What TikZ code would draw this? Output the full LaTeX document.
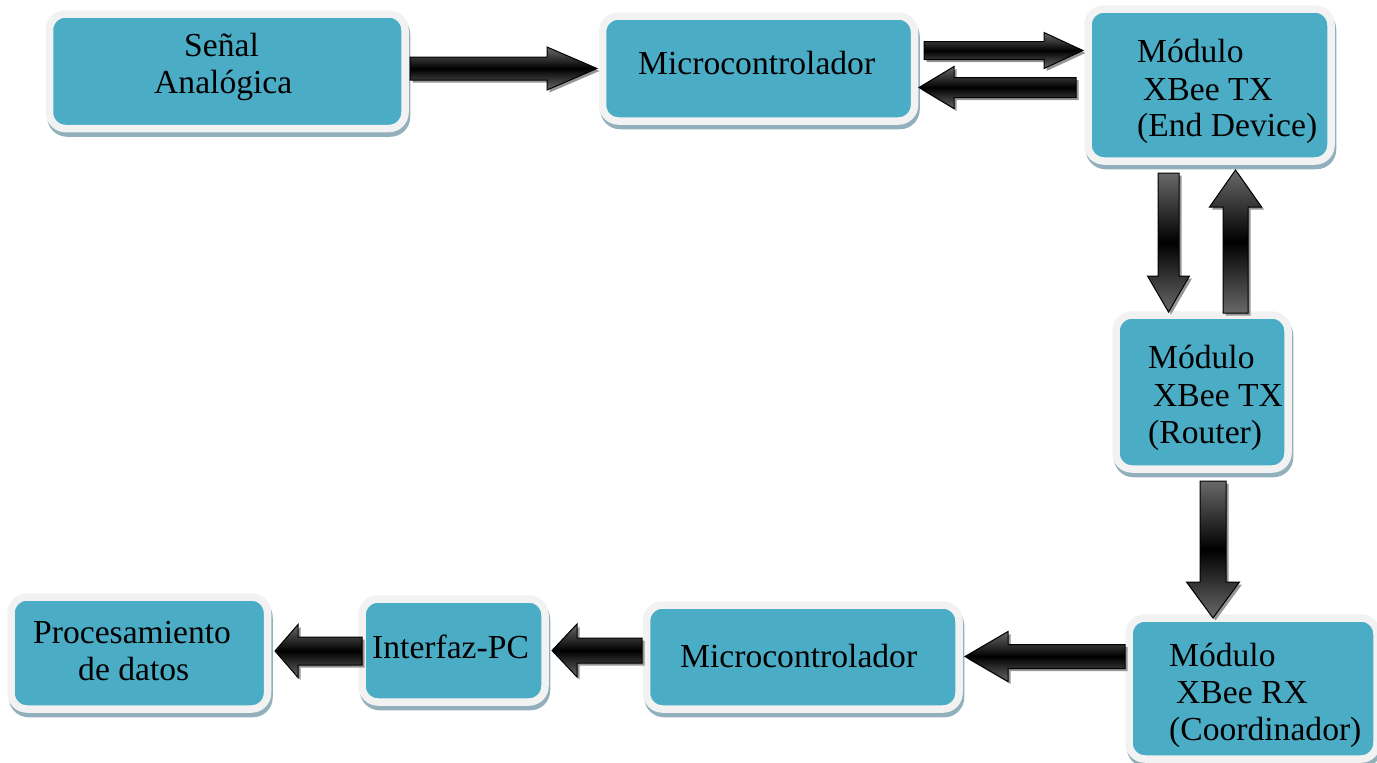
\documentclass[tikz,border=0pt]{standalone}
\usepackage{fontspec}
\setmainfont{Liberation Serif}
\usetikzlibrary{calc,shadows}
\definecolor{boxteal}{RGB}{75,172,198}
\definecolor{boxrim}{RGB}{242,242,242}
\definecolor{boxshade}{RGB}{146,176,188}
\definecolor{arrowgray}{RGB}{105,105,105}
\definecolor{arrowshade}{RGB}{150,150,150}
\tikzset{
  box/.style={rectangle, rounded corners=16pt, fill=boxteal, draw=boxrim, line width=7.5pt, inner sep=0pt,
    drop shadow={shadow xshift=1.5pt, shadow yshift=-4.5pt, fill=boxshade, draw=boxshade, line width=7.5pt, opacity=1}},
  lbl/.style={anchor=base west, inner sep=0pt, font=\fontsize{33.6}{38}\selectfont, text=black},
  blockarrow/.style={draw=black, line width=1pt, top color=arrowgray, bottom color=arrowgray, middle color=black,
    drop shadow={shadow xshift=2.5pt, shadow yshift=-2.5pt, fill=arrowshade, opacity=1}},
}
% #1 tail, #2 tip, #3 shaft half width, #4 head half width, #5 head length
\newcommand\blockarrow[5]{%
  \coordinate (ba-h) at ($(#2)!#5!(#1)$);
  \path[blockarrow] ($(#1)!#3!90:(#2)$) -- ($(ba-h)!#3!-90:(#1)$) -- ($(ba-h)!#4!-90:(#1)$) -- (#2)
     -- ($(ba-h)!#4!90:(#1)$) -- ($(ba-h)!#3!90:(#1)$) -- ($(#1)!#3!-90:(#2)$) -- cycle;
}
\begin{document}
\begin{tikzpicture}[x=1pt,y=-1pt]
\useasboundingbox (0,0) rectangle (1377,763);

% boxes
\node[box, minimum width=355.5pt, minimum height=114.5pt] (sen) at (227.25,71.25) {};
\node[box, minimum width=312pt, minimum height=105pt] (mc1) at (758.5,68.5) {};
\node[box, minimum width=243pt, minimum height=152pt] (end) at (1209.5,85) {};
\node[box, minimum width=172pt, minimum height=154pt] (rou) at (1202,392) {};
\node[box, minimum width=248pt, minimum height=141pt] (coo) at (1253,688.5) {};
\node[box, minimum width=312.5pt, minimum height=104pt] (mc2) at (802.75,657) {};
\node[box, minimum width=183pt, minimum height=103pt] (pci) at (453.5,650.5) {};
\node[box, minimum width=256.5pt, minimum height=112pt] (pro) at (139.25,653) {};

% labels
\node[lbl] (sen1) at (184,56) {Señal};
\node[lbl] (sen2) at (154,93) {Analógica};
\node[lbl] (mc1t) at (638,74) {Microcontrolador};
\node[lbl] (end1) at (1137,62) {Módulo};
\node[lbl] (end2) at (1143,100) {XBee TX};
\node[lbl] (end3) at (1137,136) {(End Device)};
\node[lbl] (rou1) at (1148,368) {Módulo};
\node[lbl] (rou2) at (1153,406) {XBee TX};
\node[lbl] (rou3) at (1148,443) {(Router)};
\node[lbl] (coo1) at (1169,666) {Módulo};
\node[lbl] (coo2) at (1176,703) {XBee RX};
\node[lbl] (coo3) at (1169,740) {(Coordinador)};
\node[lbl] (mc2t) at (680,667) {Microcontrolador};
\node[lbl] (pcit) at (372,658) {Interfaz-PC};
\node[lbl] (pro1) at (33,643) {Procesamiento};
\node[lbl] (pro2) at (78,680) {de datos};

% arrow end points
\coordinate (a1s) at (410,68.5);   \coordinate (a1e) at (597,68.5);
\coordinate (a2s) at (924,50.5);   \coordinate (a2e) at (1083,50.5);
\coordinate (a3s) at (1076,87.5);  \coordinate (a3e) at (919,87.5);
\coordinate (a4s) at (1168.5,173); \coordinate (a4e) at (1168.5,312);
\coordinate (a5s) at (1235.5,313); \coordinate (a5e) at (1235.5,170);
\coordinate (a6s) at (1213,481);   \coordinate (a6e) at (1213,618);
\coordinate (a7s) at (1125,656.5); \coordinate (a7e) at (965,656.5);
\coordinate (a8s) at (642,650.5);  \coordinate (a8e) at (552,650.5);
\coordinate (a9s) at (362,651);    \coordinate (a9e) at (275,651);

% block arrows
\blockarrow{a1s}{a1e}{11.5pt}{21.5pt}{50pt}
\blockarrow{a2s}{a2e}{9pt}{18pt}{39pt}
\blockarrow{a3s}{a3e}{10pt}{21pt}{35pt}
\blockarrow{a4s}{a4e}{10.5pt}{21pt}{36pt}
\blockarrow{a5s}{a5e}{12.5pt}{26pt}{37pt}
\blockarrow{a6s}{a6e}{13pt}{26.5pt}{36pt}
\blockarrow{a7s}{a7e}{12pt}{25pt}{43pt}
\blockarrow{a8s}{a8e}{12.5pt}{26.5pt}{25pt}
\blockarrow{a9s}{a9e}{14pt}{26.5pt}{23pt}
\end{tikzpicture}
\end{document}
